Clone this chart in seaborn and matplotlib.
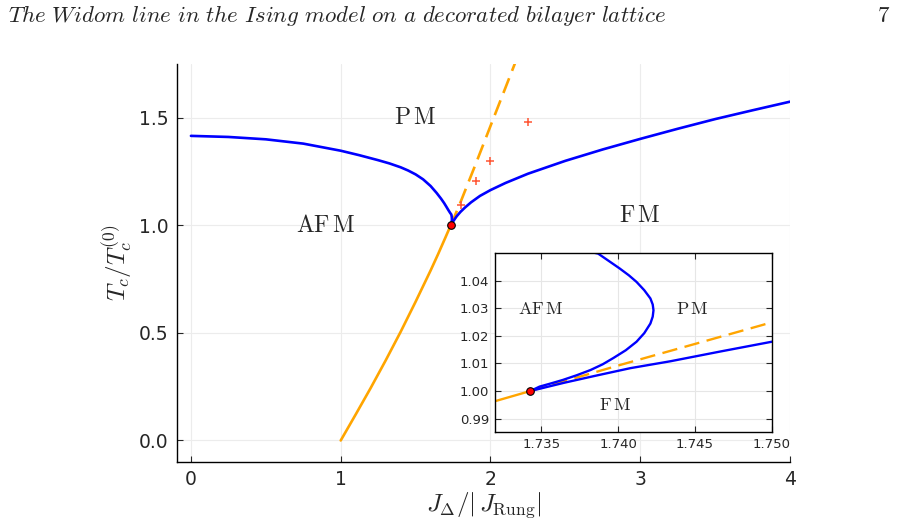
import numpy as np
import pandas as pd
import matplotlib
matplotlib.use("Agg")
import matplotlib.pyplot as plt
import seaborn as sns

# critical end point (red dot)
x_cep = [1.7343]
y_cep = [1.0]

afm_x = [0.0, 0.25, 0.5, 0.75, 1.0, 1.125, 1.25, 1.325, 1.4, 1.45, 1.5, 1.55, 1.6, 1.64,
         1.67, 1.69, 1.705, 1.717, 1.726, 1.733, 1.7365, 1.7387, 1.7394, 1.7401, 1.7407,
         1.7412, 1.7417, 1.7421, 1.74225, 1.7423, 1.74225, 1.7421, 1.7417, 1.7412,
         1.7405, 1.7397, 1.7390, 1.7382, 1.7373, 1.7364, 1.7356, 1.7349, 1.7343]
afm_y = [1.416, 1.411, 1.400, 1.380, 1.347, 1.326, 1.303, 1.288, 1.270, 1.255, 1.237,
         1.214, 1.183, 1.151, 1.124, 1.104, 1.087, 1.073, 1.063, 1.0555, 1.0525, 1.0499,
         1.0472, 1.0445, 1.0420, 1.0396, 1.0366, 1.0336, 1.0314, 1.0293, 1.0270,
         1.0245, 1.0210, 1.0179, 1.0148, 1.0120, 1.0097, 1.0076, 1.0057, 1.0040,
         1.0027, 1.0016, 1.0]

# FM / PM boundary (blue)
fm_x = [1.7343, 1.7365, 1.7385, 1.7408, 1.7434, 1.7467, 1.750, 1.76, 1.775, 1.80, 1.83,
        1.87, 1.93, 2.0, 2.1, 2.25, 2.5, 2.75, 3.0, 3.25, 3.5, 3.75, 4.0]
fm_y = [1.0, 1.0030, 1.0055, 1.0083, 1.0108, 1.0144, 1.0179, 1.028, 1.043, 1.063, 1.083,
        1.107, 1.137, 1.164, 1.197, 1.240, 1.300, 1.353, 1.402, 1.449, 1.494, 1.535, 1.575]

# first-order line (orange, solid) and Widom line (orange, dashed)
first_x = [1.0, 1.1, 1.2, 1.3, 1.4, 1.5, 1.6, 1.65, 1.70, 1.732, 1.7343]
first_y = [0.0, 0.121, 0.244, 0.372, 0.505, 0.645, 0.79, 0.866, 0.945, 0.9963, 1.0]
widom_x = [1.7343, 1.7401, 1.7494, 1.80, 1.90, 2.0, 2.10, 2.17]
widom_y = [1.0, 1.0094, 1.0240, 1.108, 1.283, 1.462, 1.64, 1.765]

# red crosses
cross_x = [1.80, 1.90, 2.00, 2.25]
cross_y = [1.095, 1.205, 1.298, 1.48]

sns.set_style("ticks")
plt.rcParams['font.family'] = ['DejaVu Sans']
plt.rcParams['mathtext.fontset'] = 'cm'

fig = plt.figure(figsize=(8.99, 5.30), dpi=100)
ax = fig.add_axes([0.1969, 0.1283, 0.6819, 0.7509])
ins = fig.add_axes([0.5506, 0.1843, 0.3081, 0.3378])


def draw_curves(a, lw, dash):
    sns.lineplot(x=first_x, y=first_y, ax=a, color='orange', lw=lw, sort=False,
                 estimator=None, legend=False)
    sns.lineplot(x=widom_x, y=widom_y, ax=a, color='orange', lw=lw, sort=False,
                 estimator=None, legend=False, linestyle=(0, dash))
    sns.lineplot(x=afm_x, y=afm_y, ax=a, color='blue', lw=lw, sort=False,
                 estimator=None, legend=False)
    sns.lineplot(x=fm_x, y=fm_y, ax=a, color='blue', lw=lw, sort=False,
                 estimator=None, legend=False)
    sns.scatterplot(x=x_cep, y=y_cep, ax=a, color='red', edgecolor='black',
                    linewidth=0.8, s=30, zorder=6, legend=False)


draw_curves(ax, 1.9, (6.0, 3.0))
sns.scatterplot(x=cross_x, y=cross_y, ax=ax, marker='+', color='#ff5533', s=40,
                linewidth=1.1, zorder=5, legend=False)

ax.set_xlim(-0.093, 4.0)
ax.set_ylim(-0.1, 1.75)
ax.set_xticks([0, 1, 2, 3, 4])
ax.set_yticks([0.0, 0.5, 1.0, 1.5])
ax.set_yticklabels(['0.0', '0.5', '1.0', '1.5'])
ax.grid(True, color='#ececec', lw=0.8)
ax.set_axisbelow(True)
sns.despine(ax=ax)
ax.tick_params(direction='in', length=4, width=0.8, labelsize=13.5, pad=6)
for s in ['left', 'bottom']:
    ax.spines[s].set_linewidth(1.0)
    ax.spines[s].set_color('black')
ax.set_xlabel(r'$J_\Delta/|\,J_{\mathrm{Rung}}|$', fontsize=18, labelpad=1)
ax.set_ylabel(r'$T_c/T_c^{(0)}$', fontsize=18, labelpad=3)

ax.text(1.5, 1.505, r'$\mathrm{P\,M}$', fontsize=17, ha='center', va='center')
ax.text(0.9, 1.0, r'$\mathrm{AF\,M}$', fontsize=17, ha='center', va='center')
ax.text(3.0, 1.05, r'$\mathrm{F\,M}$', fontsize=17, ha='center', va='center')

# inset around the critical end point
draw_curves(ins, 1.7, (6.5, 3.2))
ins.set_xlim(1.732, 1.750)
ins.set_ylim(0.985, 1.05)
ins.set_xticks([1.735, 1.740, 1.745, 1.750])
ins.set_xticklabels(['1.735', '1.740', '1.745', '1.750'])
ins.set_yticks([0.99, 1.00, 1.01, 1.02, 1.03, 1.04])
ins.set_yticklabels(['0.99', '1.00', '1.01', '1.02', '1.03', '1.04'])
ins.grid(True, color='#e6e6e6', lw=0.8)
ins.set_axisbelow(True)
ins.tick_params(direction='in', length=4, width=0.8, labelsize=9.5, top=True,
                right=True, pad=4)
for s in ins.spines.values():
    s.set_linewidth(1.0)
    s.set_color('black')
ins.set_xlabel('')
ins.set_ylabel('')
ins.text(1.735, 1.0296, r'$\mathrm{AF\,M}$', fontsize=13, ha='center', va='center')
ins.text(1.7448, 1.0296, r'$\mathrm{P\,M}$', fontsize=13, ha='center', va='center')
ins.text(1.7398, 0.995, r'$\mathrm{F\,M}$', fontsize=13, ha='center', va='center')

# running head of the page
fig.text(8 / 899, 1 - 16 / 530,
         r'$\mathit{The\ Widom\ line\ in\ the\ Ising\ model\ on\ a\ decorated\ bilayer\ lattice}$',
         fontsize=16.5, ha='left', va='center')
fig.text(890 / 899, 1 - 16 / 530, r'$\mathrm{7}$', fontsize=16.5, ha='right', va='center')

fig.savefig('out.png', dpi=100)
